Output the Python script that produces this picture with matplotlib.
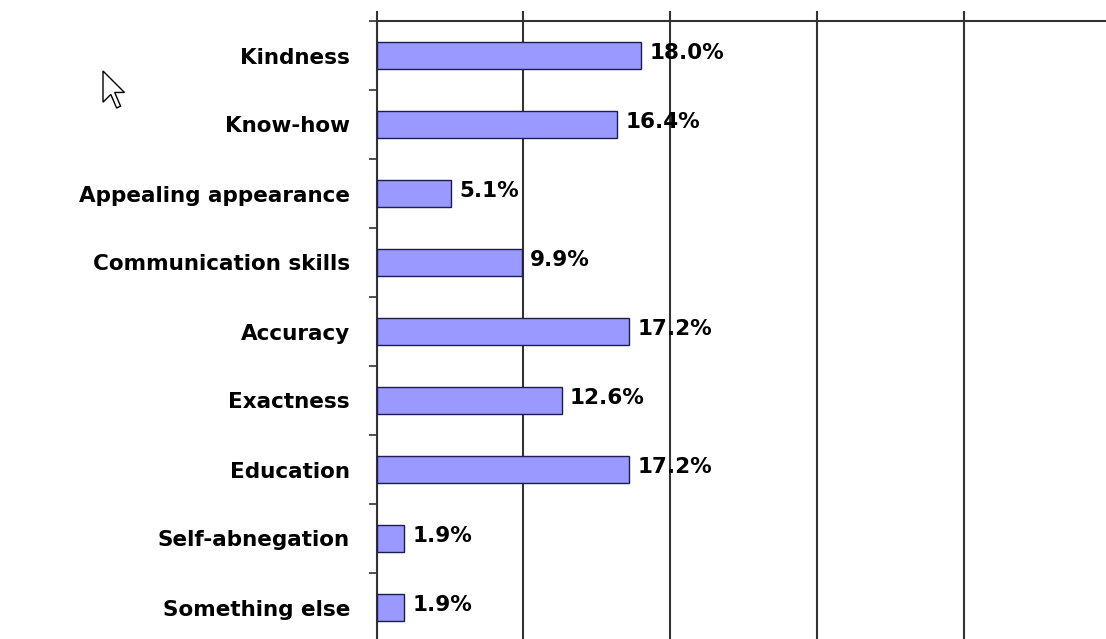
import numpy as np
import matplotlib
matplotlib.use("Agg")
import matplotlib.pyplot as plt
from matplotlib.patches import Polygon
from matplotlib.ticker import MultipleLocator, FixedLocator

# survey answers, top to bottom
categories = ["Kindness", "Know-how", "Appealing appearance", "Communication skills",
              "Accuracy", "Exactness", "Education", "Self-abnegation", "Something else"]
shares = [18.0, 16.4, 5.1, 9.9, 17.2, 12.6, 17.2, 1.9, 1.9]
value_labels = ["18.0%", "16.4%", "5.1%", "9.9%", "17.2%", "12.6%", "17.2%", "1.9%", "1.9%"]

W, H = 1106, 639
fig = plt.figure(figsize=(W / 100, H / 100), dpi=100)
fig.patch.set_facecolor("white")

# axes run a little past the right / bottom edge, like the cropped original
x0, x50 = 376.5, 1111.0
top_px, bot_px = 21.0, 642.0
ax = fig.add_axes([x0 / W, 1 - bot_px / H, (x50 - x0) / W, (bot_px - top_px) / H])

pos = np.arange(len(categories))
ax.barh(pos, shares, height=0.39, color="#9999ff", edgecolor="#1c1c50", linewidth=1.0, zorder=3)

for p, v, lab in zip(pos, shares, value_labels):
    ax.annotate(lab, (v, p), xytext=(6, 1.5), textcoords="offset points",
                ha="left", va="center", fontsize=15.5, fontweight="bold",
                family="DejaVu Sans", color="black", zorder=4)

ax.set_xlim(0, 50)
ax.set_ylim(len(categories) - 0.5, -0.5)

for s in ("right", "bottom"):
    ax.spines[s].set_visible(False)
for s in ("top", "left"):
    ax.spines[s].set_color("#333333")
    ax.spines[s].set_linewidth(1.5)

ax.xaxis.set_major_locator(MultipleLocator(10))
ax.xaxis.tick_top()
ax.tick_params(axis="x", which="major", direction="out", length=7, width=1.5,
               color="#333333", labeltop=False, labelbottom=False)
ax.grid(axis="x", color="#333333", linewidth=1.5, zorder=1)

ax.set_yticks(pos)
ax.set_yticklabels(categories, fontsize=15.5, fontweight="bold", family="DejaVu Sans")
ax.yaxis.set_minor_locator(FixedLocator(np.arange(len(categories) + 1) - 0.5))
ax.tick_params(axis="y", which="major", length=0, pad=19)
ax.tick_params(axis="y", which="minor", length=5.5, width=1.2, color="#333333")

# mouse pointer left in the screenshot
cursor = np.array([(0, 0), (0, 16), (4, 12), (7, 19), (9, 18), (6, 11), (11, 11)], dtype=float)
cursor = cursor * 1.95 + np.array([103.0, 71.0])
fig.add_artist(Polygon(np.column_stack([cursor[:, 0] / W, 1 - cursor[:, 1] / H]),
                       closed=True, facecolor="white", edgecolor="black",
                       linewidth=1.0, transform=fig.transFigure))

fig.savefig("out.png", dpi=100, facecolor="white")
